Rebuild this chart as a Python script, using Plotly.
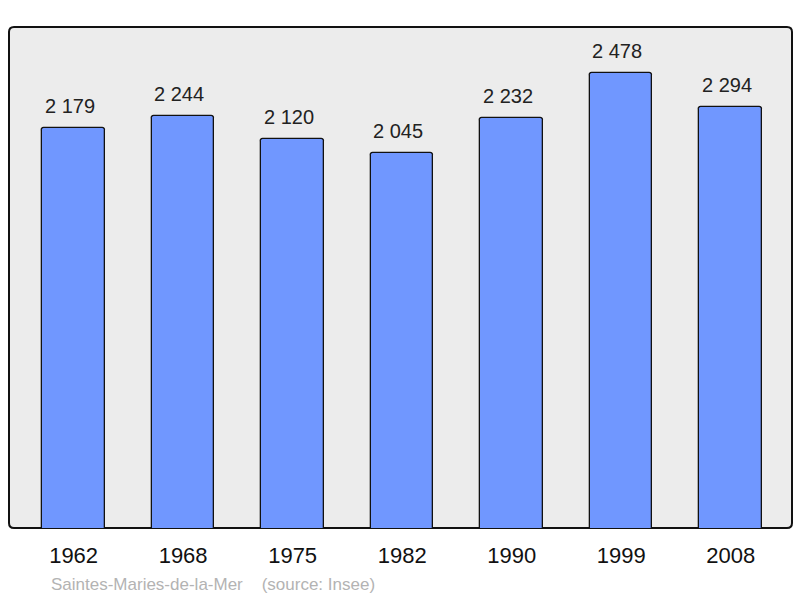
import plotly.graph_objects as go

years = ["1962", "1968", "1975", "1982", "1990", "1999", "2008"]
population = [2179, 2244, 2120, 2045, 2232, 2478, 2294]
labels = [f"{v:,}".replace(",", " ") for v in population]
source_text = "Saintes-Maries-de-la-Mer &nbsp;&nbsp; (source: Insee)"

W, H = 800, 598
L, R, T, B = 9, 8, 27, 70
pw, ph = W - L - R, H - T - B

fig = go.Figure()
fig.add_trace(go.Bar(
    x=years, y=population, width=0.57,
    marker=dict(color="#7097ff", line=dict(color="#111111", width=1.3), cornerradius=3),
    hoverinfo="skip",
))

for i, (v, lab) in enumerate(zip(population, labels)):
    fig.add_annotation(x=i, y=v, text=lab, showarrow=False, yanchor="bottom",
                       yshift=9, xshift=-4, font=dict(size=20, color="#222222"))

fig.add_annotation(xref="paper", yref="paper", x=(49 - L) / pw, y=(T + ph - 584) / ph,
                   xanchor="left", yanchor="middle", text=source_text, showarrow=False,
                   font=dict(size=17, color="#b3b3b3"))

# rounded plot-area frame
rx, ry = 5 / pw, 5 / ph
path = (f"M {rx},0 L {1-rx},0 Q 1,0 1,{ry} L 1,{1-ry} Q 1,1 {1-rx},1 "
        f"L {rx},1 Q 0,1 0,{1-ry} L 0,{ry} Q 0,0 {rx},0 Z")
fig.add_shape(type="path", xref="paper", yref="paper", path=path,
              fillcolor="#ececec", line=dict(color="#111111", width=2), layer="below")

fig.update_layout(
    width=W, height=H, margin=dict(l=L, r=R, t=T, b=B),
    paper_bgcolor="white", plot_bgcolor="rgba(0,0,0,0)",
    font=dict(family="Liberation Sans, Arial, sans-serif", color="#111111"),
    showlegend=False, bargap=0,
)
fig.update_xaxes(type="category", range=[-0.59, 6.56], showgrid=False, zeroline=False,
                 showline=False, ticks="outside", ticklen=8, tickcolor="rgba(0,0,0,0)",
                 tickfont=dict(size=22, color="#111111"))
fig.update_yaxes(range=[15, 2727], showgrid=False, zeroline=False, showticklabels=False,
                 showline=False)

fig.write_html("out.html", config={"displayModeBar": False},
               post_script="document.body.style.margin='0';document.body.style.overflow='hidden';")
